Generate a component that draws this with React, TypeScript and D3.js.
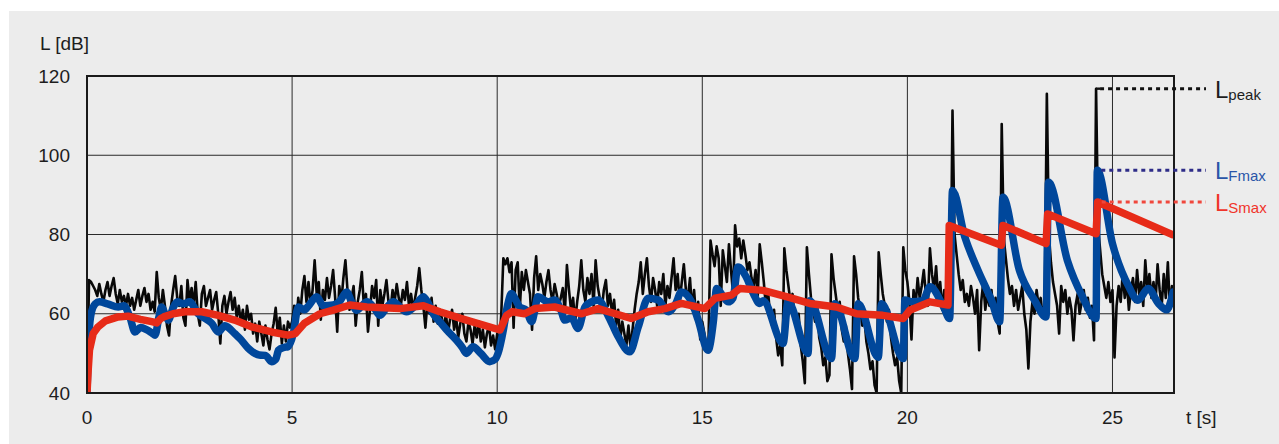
import React from "react";
import * as d3 from "d3";

// ---- data ----
const yTicks = [40, 60, 80, 100, 120];
const xTicks = [0, 5, 10, 15, 20, 25];
const xGrid = [5, 10, 15, 20, 25];
const yGrid = [60, 80, 100];

// Instantaneous level (black), sampled every 0.05 s, t = 0 .. 26.5
const peakStep = 0.05;
const peakValues: number[] = [
  40, 68.5, 68, 67, 66, 64.5, 67.5, 65, 63, 66, 68, 64.5, 67, 69, 65, 62.5, 66, 63, 64.5, 62,
  65, 62, 64, 61, 63.5, 66, 62, 64.5, 66.5, 63, 65, 61, 63, 60.5, 70.5, 64, 61, 66, 62, 57,
  54.5, 62, 66, 69.5, 64, 62, 67, 59, 57, 68.5, 63, 66.5, 62, 68, 60, 57, 65, 67, 62, 64,
  66, 61, 63.5, 65.5, 60, 52.5, 62, 64.5, 60, 63, 65.5, 61, 64, 59, 62, 58, 61, 56, 62, 58.5,
  60, 55, 57.5, 53, 58, 55, 52, 57, 53.5, 51, 55, 57.5, 61.5, 55, 59, 52.5, 57, 53, 58, 56.5,
  58, 62, 57, 64, 60, 66, 69.5, 63, 68, 62, 66, 73.5, 65, 68, 58.5, 66, 63.5, 69, 64, 67,
  71, 64, 55.5, 67, 63, 69, 73.5, 66, 61, 64, 67, 57, 63, 66, 70.5, 62, 65, 55.5, 61, 67,
  64, 68.5, 57, 66, 62, 65, 68.5, 63, 61, 66, 63, 67.5, 64, 62, 66, 63.5, 68, 62, 65, 61,
  64, 67, 71.5, 66, 62, 56.5, 63, 60, 64, 58, 62, 57.5, 61, 59, 56, 60, 55, 58.5, 61, 56,
  59, 54, 57.5, 60, 55, 53, 58, 56, 52.5, 57, 54, 58, 53, 56, 51.5, 55, 57, 52, 54.5, 51,
  55, 51.5, 60, 74, 72.5, 74, 70.5, 73, 56.5, 71, 73, 61, 70.5, 66, 71, 68, 65, 56, 69, 74.5,
  66, 70, 67.5, 64, 68, 71, 66, 63, 67.5, 65, 62, 64, 66.5, 60, 72.3, 66, 61, 64, 58, 63,
  67, 73.5, 66, 63, 69, 65, 70, 62, 73.5, 67, 64, 61, 66, 68.5, 62, 65, 60, 63.5, 57, 61,
  53.5, 58, 55, 52, 57, 51.5, 56, 61, 65, 68, 73, 65, 70, 74, 67, 63, 69, 66, 62, 68,
  65, 70, 62, 67, 64, 69, 74, 66, 70, 63, 68, 72.5, 66, 64, 69, 61, 66, 59, 63, 53.5,
  58, 55, 50.5, 52, 78.5, 75, 72, 77, 74, 62, 76, 72, 68, 77.5, 71, 65, 82.3, 77, 79, 74,
  78.5, 75, 71, 73, 69, 67, 71, 64, 77.5, 73, 68, 62, 66, 60, 57, 61, 54, 49.5, 52, 47,
  76.5, 71, 67, 63, 65, 59, 56, 60, 52, 48, 42.5, 76.8, 70, 64, 61, 58, 62, 54, 51.5, 47,
  49, 43, 44.5, 75, 69, 65, 61, 63, 56, 53, 57, 50, 46, 41, 74.5, 70, 64, 61, 57, 59,
  53, 50, 46, 48, 42, 40, 75.5, 70, 65, 62, 58, 61, 54, 50, 47, 49, 43, 40, 76.8, 71,
  68, 63, 53.5, 66, 62, 69, 64, 67, 71, 65, 62, 76.5, 70, 66, 72, 64, 68, 61, 66, 62,
  64, 61, 111.3, 80, 75, 70, 66, 68.5, 63, 65, 62, 67, 64, 60, 66, 50.8, 63, 68, 61, 65,
  62, 66, 60, 64, 58, 55, 107.9, 79, 74, 69, 65, 67, 62, 66, 61, 64, 67, 60, 56, 46.2,
  58, 63, 60, 66, 62, 64, 59, 63, 115.5, 80, 73, 68, 65, 62, 55, 67, 63, 66, 60, 64,
  61, 53.3, 62, 65, 60, 63, 66, 61, 64, 59, 62, 53.3, 116.8, 82, 76, 70, 67, 64, 68, 63,
  66, 49, 62, 67, 63, 70, 64, 68, 61, 66, 69, 63, 71, 65, 68, 62, 73.5, 66, 70, 64,
  68, 63, 72.5, 66, 62, 70, 64, 73, 61, 67, 66,
];

// Fast time-weighted level (blue): [t, dB]
const fastPoints: [number, number][] = [
  [0, 40], [0.05, 55], [0.1, 60], [0.2, 62.5], [0.3, 63], [0.5, 62.5], [0.76, 61.7], [0.9, 62],
  [1.05, 59], [1.17, 55.4], [1.3, 56.5], [1.45, 56], [1.6, 55], [1.66, 54.6], [1.75, 59], [1.82, 61.7],
  [1.9, 60], [1.98, 58.4], [2.1, 61.5], [2.2, 63], [2.35, 62.5], [2.5, 63], [2.71, 60], [2.85, 59],
  [3.04, 57.6], [3.2, 55.4], [3.36, 57], [3.45, 56.5], [3.6, 55], [3.75, 53.5], [3.93, 51.3], [4.2, 49.6],
  [4.35, 49.5], [4.5, 47.9], [4.6, 48.5], [4.67, 50.8], [4.8, 51.5], [4.9, 51.7], [5.03, 55], [5.15, 61.7],
  [5.3, 61], [5.4, 62], [5.6, 64.3], [5.76, 62], [6.0, 62.2], [6.15, 63], [6.33, 65.5], [6.45, 63],
  [6.57, 60.9], [6.7, 62], [6.82, 63], [7.0, 61.5], [7.14, 59.6], [7.3, 61.5], [7.47, 63], [7.6, 62],
  [7.79, 60.5], [8.0, 62], [8.2, 64.3], [8.3, 63], [8.44, 60], [8.6, 58], [8.77, 55.9], [9.01, 53.3],
  [9.15, 51.5], [9.25, 50], [9.41, 51.7], [9.6, 50], [9.82, 47.9], [9.95, 48.5], [10.02, 50], [10.15, 55.9],
  [10.25, 62], [10.35, 65.1], [10.45, 63.5], [10.55, 61.7], [10.7, 61], [10.84, 58], [10.92, 61], [10.99, 64.3],
  [11.24, 63], [11.4, 63.5], [11.55, 61], [11.65, 58.4], [11.81, 59], [11.97, 56.3], [12.14, 61.7], [12.3, 63],
  [12.46, 63.5], [12.7, 59.6], [12.95, 54.2], [13.23, 50.4], [13.44, 56.7], [13.68, 63.9], [13.92, 63.5], [14.17, 60.5],
  [14.35, 62.5], [14.49, 65.5], [14.74, 63], [14.9, 58.4], [15.14, 50.8], [15.27, 58], [15.35, 66.4], [15.5, 64.5],
  [15.63, 63], [15.75, 64], [15.87, 71.8], [16.07, 69.3], [16.25, 65], [16.4, 62.6], [16.48, 63.3], [16.97, 52.5],
  [17.09, 63], [17.58, 50], [17.62, 63.3], [18.15, 48.7], [18.23, 62.5], [18.72, 48.7], [18.8, 62.5], [19.29, 49],
  [19.37, 62.5], [19.9, 48.7], [19.94, 63.5], [20.1, 63], [20.38, 63.3], [20.55, 66.8], [20.87, 62], [21.03, 58.8],
  [21.1, 91.1], [21.4, 79.4], [21.72, 71], [22.05, 63.4], [22.25, 58], [22.33, 89.4], [22.73, 71], [23.1, 63.4],
  [23.38, 59.2], [23.44, 93.2], [23.9, 73.5], [24.27, 64.3], [24.6, 58.8], [24.63, 96.2], [25.0, 77.7], [25.4, 66.8],
  [25.62, 63.4], [25.87, 66.4], [26.12, 62.6], [26.32, 61], [26.48, 65.5],
];

// Slow time-weighted level (red): [t, dB]
const slowPoints: [number, number][] = [
  [0, 40], [0.03, 46], [0.06, 50.8], [0.15, 55], [0.27, 56.7], [0.45, 58.2], [0.76, 59.2], [1.0, 59.4],
  [1.3, 58.6], [1.58, 58], [1.7, 57.7], [1.8, 58.8], [1.87, 59.2], [2.1, 60], [2.39, 60.5], [2.8, 60.5],
  [3.2, 59.6], [3.6, 58.4], [4.01, 56.7], [4.5, 55.4], [4.9, 54.6], [5.08, 55], [5.3, 57.6], [5.68, 60],
  [6.0, 60.9], [6.41, 62.2], [6.82, 61.7], [7.63, 61.3], [8.2, 62], [8.6, 60.5], [9.25, 58.4], [10.07, 55.9],
  [10.23, 59.6], [10.36, 60.5], [10.67, 60], [10.92, 61.3], [11.4, 61.7], [12.06, 60], [12.46, 61.3], [13.27, 58.8],
  [13.68, 60.5], [14.09, 61.3], [14.49, 62.6], [15.06, 61.3], [15.31, 63.9], [15.71, 64.7], [15.92, 66.4], [16.48, 65.9],
  [17.05, 64.3], [17.62, 62.6], [18.27, 61.7], [18.76, 60], [19.4, 59.6], [19.9, 58.8], [20.06, 60.9], [20.55, 63],
  [20.99, 62.2], [21.02, 82.3], [22.29, 77.3], [22.33, 82.3], [23.38, 77.7], [23.42, 85.2], [24.6, 80.2], [24.64, 88.2],
  [26.5, 79.8],
];

// Maxima markers: [t, dB]
const peakMax: [number, number] = [24.6, 116.8];
const fastMax: [number, number] = [24.63, 96.2];
const slowMax: [number, number] = [24.64, 88.2];

const legendLabels = [
  { main: "L", sub: "peak", key: "peak" },
  { main: "L", sub: "Fmax", key: "fast" },
  { main: "L", sub: "Smax", key: "slow" },
];

export default function App() {
  const W = 1279;
  const H = 444;
  const left = 87, right = 1174, top = 76, bottom = 393;
  const x = d3.scaleLinear().domain([0, 26.5]).range([left, right]);
  const y = d3.scaleLinear().domain([40, 120]).range([bottom, top]);

  const font = "'Liberation Sans', Arial, Helvetica, sans-serif";
  const textColor = "#1d1d1d";

  const peakLine = d3
    .line<number>()
    .x((_, i) => x(i * peakStep))
    .y((v) => y(Math.max(40, v)))
    .curve(d3.curveLinear)(peakValues) as string;

  const fastLine = d3
    .line<[number, number]>()
    .x((d) => x(d[0]))
    .y((d) => y(d[1]))
    .curve(d3.curveMonotoneX)(fastPoints) as string;

  const slowLine = d3
    .line<[number, number]>()
    .x((d) => x(d[0]))
    .y((d) => y(d[1]))
    .curve(d3.curveLinear)(slowPoints) as string;

  const legendEnd = 1206;
  const markers = [
    { p: peakMax, color: "#111111", textColor: "#1d1d1d" },
    { p: fastMax, color: "#2e2c88", textColor: "#2a55a8" },
    { p: slowMax, color: "#f0473c", textColor: "#f0342a" },
  ];

  return (
    <svg
      width={W}
      height={H}
      style={{ position: "absolute", left: 0, top: 0, display: "block" }}
      fontFamily={font}
    >
      <rect x={0} y={0} width={W} height={H} fill="#ffffff" />
      <rect x={9} y={11} width={W - 9} height={H - 11} fill="#ececec" />

      <defs>
        <clipPath id="plotClip">
          <rect x={left} y={top - 2} width={right - left} height={bottom - top + 2} />
        </clipPath>
      </defs>

      {/* grid */}
      {xGrid.map((t) => (
        <line key={"gx" + t} x1={x(t)} x2={x(t)} y1={top} y2={bottom} stroke="#2a2a2a" strokeWidth={1} />
      ))}
      {yGrid.map((v) => (
        <line key={"gy" + v} x1={left} x2={right} y1={y(v)} y2={y(v)} stroke="#2a2a2a" strokeWidth={1} />
      ))}

      {/* data */}
      <g clipPath="url(#plotClip)">
        <path d={peakLine} fill="none" stroke="#080808" strokeWidth={2.6} strokeLinejoin="round" />
        <path d={fastLine} fill="none" stroke="#00479b" strokeWidth={7.5} strokeLinejoin="round" strokeLinecap="round" />
        <path d={slowLine} fill="none" stroke="#e72b18" strokeWidth={7.5} strokeLinejoin="round" strokeLinecap="butt" />
      </g>

      {/* frame */}
      <rect x={left} y={top} width={right - left} height={bottom - top} fill="none" stroke="#1a1a1a" strokeWidth={2} />

      {/* maxima lines */}
      {markers.map((m, i) => (
        <g key={"m" + i}>
          {i === 0 && (
            <line x1={x(m.p[0])} x2={x(m.p[0]) + 4} y1={y(m.p[1])} y2={y(m.p[1])} stroke={m.color} strokeWidth={2.4} />
          )}
          <line
            x1={x(m.p[0]) + 4}
            x2={legendEnd}
            y1={y(m.p[1])}
            y2={y(m.p[1])}
            stroke={m.color}
            strokeWidth={3}
            strokeDasharray="4 4"
          />
          <text x={1215} y={y(m.p[1]) + 9} fill={m.textColor} fontSize={24}>
            {legendLabels[i].main}
            <tspan fontSize={15} dy={2}>{legendLabels[i].sub}</tspan>
          </text>
        </g>
      ))}

      {/* y axis labels */}
      {yTicks.map((v) => (
        <text key={"yt" + v} x={70} y={y(v) + 1.5} fontSize={19} fill={textColor} textAnchor="end" dominantBaseline="middle">
          {v}
        </text>
      ))}
      <text x={40} y={50} fontSize={19} fill={textColor}>L [dB]</text>

      {/* x axis labels */}
      {xTicks.map((t) => (
        <text key={"xt" + t} x={x(t)} y={424} fontSize={19} fill={textColor} textAnchor="middle">
          {t}
        </text>
      ))}
      <text x={1186} y={424} fontSize={19} fill={textColor}>t [s]</text>
    </svg>
  );
}
